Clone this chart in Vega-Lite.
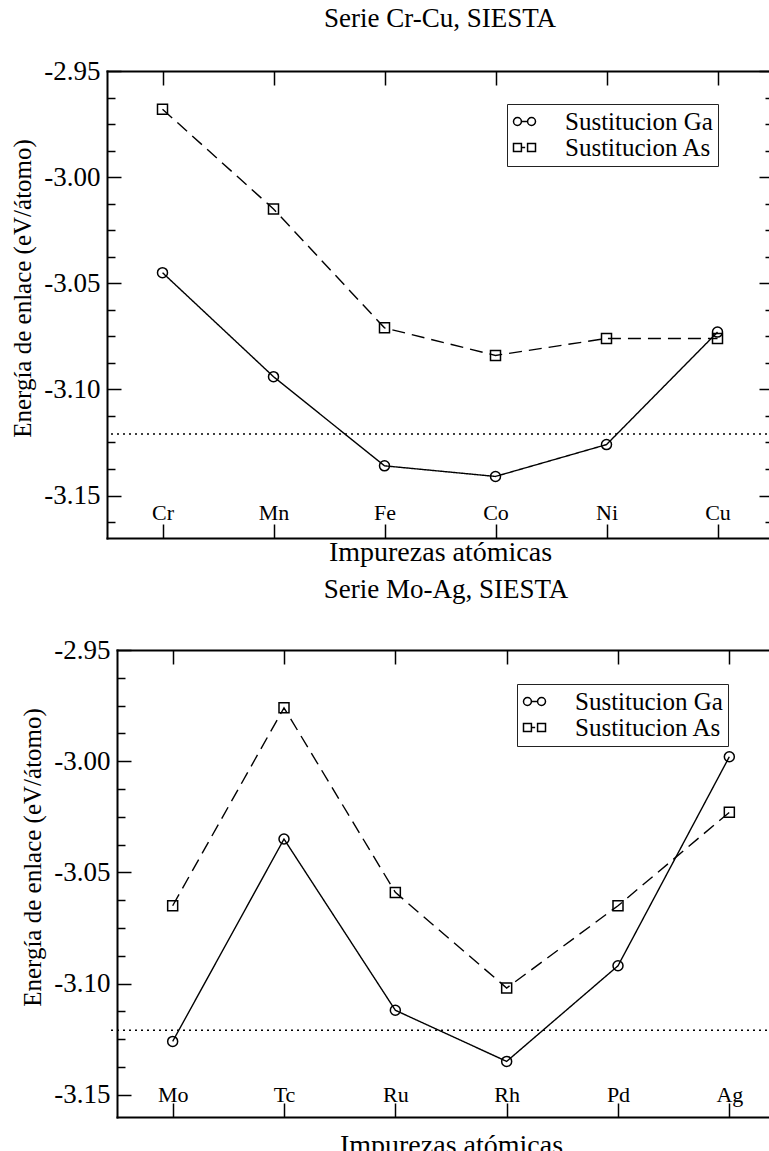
{
  "$schema": "https://vega.github.io/schema/vega-lite/v6.json",
  "padding": {"left": 10, "top": 5, "right": 0, "bottom": 0},
  "background": "white",
  "bounds": "flush",
  "spacing": 112,
  "datasets": {
    "ref": [{"energia": -3.121}],
    "cr": [
      {"elem": "Cr", "serie": "Sustitucion Ga", "energia": -3.045},
      {"elem": "Mn", "serie": "Sustitucion Ga", "energia": -3.094},
      {"elem": "Fe", "serie": "Sustitucion Ga", "energia": -3.136},
      {"elem": "Co", "serie": "Sustitucion Ga", "energia": -3.141},
      {"elem": "Ni", "serie": "Sustitucion Ga", "energia": -3.126},
      {"elem": "Cu", "serie": "Sustitucion Ga", "energia": -3.073},
      {"elem": "Cr", "serie": "Sustitucion As", "energia": -2.968},
      {"elem": "Mn", "serie": "Sustitucion As", "energia": -3.015},
      {"elem": "Fe", "serie": "Sustitucion As", "energia": -3.071},
      {"elem": "Co", "serie": "Sustitucion As", "energia": -3.084},
      {"elem": "Ni", "serie": "Sustitucion As", "energia": -3.076},
      {"elem": "Cu", "serie": "Sustitucion As", "energia": -3.076}
    ],
    "mo": [
      {"elem": "Mo", "serie": "Sustitucion Ga", "energia": -3.126},
      {"elem": "Tc", "serie": "Sustitucion Ga", "energia": -3.035},
      {"elem": "Ru", "serie": "Sustitucion Ga", "energia": -3.112},
      {"elem": "Rh", "serie": "Sustitucion Ga", "energia": -3.135},
      {"elem": "Pd", "serie": "Sustitucion Ga", "energia": -3.092},
      {"elem": "Ag", "serie": "Sustitucion Ga", "energia": -2.998},
      {"elem": "Mo", "serie": "Sustitucion As", "energia": -3.065},
      {"elem": "Tc", "serie": "Sustitucion As", "energia": -2.976},
      {"elem": "Ru", "serie": "Sustitucion As", "energia": -3.059},
      {"elem": "Rh", "serie": "Sustitucion As", "energia": -3.102},
      {"elem": "Pd", "serie": "Sustitucion As", "energia": -3.065},
      {"elem": "Ag", "serie": "Sustitucion As", "energia": -3.023}
    ]
  },
  "vconcat": [
    {
      "width": 666,
      "height": 467,
      "title": {"text": "Serie Cr-Cu, SIESTA", "offset": 3, "baseline": "alphabetic", "frame": "group", "anchor": "middle", "font": "Liberation Serif", "fontSize": 27, "fontWeight": "normal", "color": "black"},
      "layer": [
        {
          "data": {"name": "ref"},
          "mark": {"type": "rule", "strokeDash": [2, 4], "strokeWidth": 1.5, "color": "black"},
          "encoding": {
            "y": {"field": "energia", "type": "quantitative", "scale": {"domain": [-3.17, -2.95], "nice": false, "zero": false}, "axis": null}
          }
        },
        {
          "data": {"name": "cr"},
          "mark": {"type": "line", "strokeWidth": 1.4, "color": "black"},
          "encoding": {
            "x": {"field": "elem", "type": "nominal", "scale": {"type": "point", "domain": ["Cr", "Mn", "Fe", "Co", "Ni", "Cu"], "padding": 0.5},
              "axis": {"orient": "bottom", "title": "Impurezas atómicas", "titleFont": "Liberation Serif", "titleFontSize": 28, "titlePadding": 0, "labelFont": "Liberation Serif", "labelFontSize": 22, "labelAngle": 0, "labelBaseline": "alphabetic", "labelPadding": -5, "tickSize": -14}},
            "y": {"field": "energia", "type": "quantitative", "scale": {"domain": [-3.17, -2.95], "nice": false, "zero": false},
              "axis": {"orient": "left", "title": "Energía de enlace (eV/átomo)", "titleFont": "Liberation Serif", "titleFontSize": 25, "titlePadding": 8, "titleY": 217,
                "values": [-2.95, -2.9625, -2.975, -2.9875, -3.0, -3.0125, -3.025, -3.0375, -3.05, -3.0625, -3.075, -3.0875, -3.1, -3.1125, -3.125, -3.1375, -3.15, -3.1625],
                "labelExpr": "round(datum.value*400) % 20 === 0 ? '-' + format(abs(datum.value), '.2f') : ''",
                "labelFont": "Liberation Serif", "labelFontSize": 27, "labelPadding": 21, "labelOverlap": false,
                "tickSize": {"condition": {"test": "round(datum.value*400) % 20 === 0", "value": -14}, "value": -8}}},
            "strokeDash": {"field": "serie", "type": "nominal", "scale": {"domain": ["Sustitucion As", "Sustitucion Ga"], "range": [[13, 7], [1, 0]]}, "legend": null}
          }
        },
        {
          "data": {"name": "cr"},
          "mark": {"type": "point", "filled": false, "strokeWidth": 1.5, "color": "black", "opacity": 1, "size": 100},
          "encoding": {
            "x": {"field": "elem", "type": "nominal", "scale": {"type": "point", "domain": ["Cr", "Mn", "Fe", "Co", "Ni", "Cu"], "padding": 0.5},
              "axis": {"orient": "top", "title": null, "labels": false, "tickSize": -14}},
            "y": {"field": "energia", "type": "quantitative", "scale": {"domain": [-3.17, -2.95], "nice": false, "zero": false},
              "axis": {"orient": "right", "title": null, "labels": false,
                "values": [-2.95, -2.9625, -2.975, -2.9875, -3.0, -3.0125, -3.025, -3.0375, -3.05, -3.0625, -3.075, -3.0875, -3.1, -3.1125, -3.125, -3.1375, -3.15, -3.1625],
                "tickSize": {"condition": {"test": "round(datum.value*400) % 20 === 0", "value": -14}, "value": -8}}},
            "shape": {"field": "serie", "type": "nominal", "scale": {"domain": ["Sustitucion As", "Sustitucion Ga"], "range": ["square", "circle"]}, "legend": null}
          }
        },
        {
          "data": {"name": "cr"},
          "mark": {"type": "point", "filled": false, "strokeWidth": 1.5, "color": "black", "opacity": 0, "size": 484},
          "encoding": {
            "x": {"field": "elem", "type": "nominal", "scale": {"type": "point", "domain": ["Cr", "Mn", "Fe", "Co", "Ni", "Cu"], "padding": 0.5}, "axis": null},
            "y": {"field": "energia", "type": "quantitative", "scale": {"domain": [-3.17, -2.95], "nice": false, "zero": false}, "axis": null},
            "shape": {"field": "serie", "type": "nominal",
              "scale": {"domain": ["Sustitucion Ga", "Sustitucion As"], "range": ["M-0.28,0A0.36,0.36,0,1,1,-1,0A0.36,0.36,0,1,1,-0.28,0M-0.28,0L0.28,0M1,0A0.36,0.36,0,1,1,0.28,0A0.36,0.36,0,1,1,1,0", "M-1,-0.36L-0.28,-0.36L-0.28,0.36L-1,0.36ZM-0.28,0L0.06,0M0.28,-0.36L1,-0.36L1,0.36L0.28,0.36Z"]},
              "legend": {"orient": "none", "legendX": 400, "legendY": 33, "title": null, "padding": 5, "labelOffset": 28, "labelFont": "Liberation Serif", "labelFontSize": 25, "labelColor": "black", "labelLimit": 400, "rowPadding": 0,
                "symbolSize": 484, "symbolStrokeWidth": 1.5, "symbolStrokeColor": "black", "symbolFillColor": "transparent", "symbolOpacity": 1, "strokeColor": "#222222", "fillColor": "white"}}
          }
        }
      ],
      "resolve": {"axis": {"x": "independent", "y": "independent"}, "scale": {"shape": "independent"}, "legend": {"shape": "independent"}}
    },
    {
      "width": 678,
      "height": 467,
      "title": {"text": "Serie Mo-Ag, SIESTA", "offset": 11, "baseline": "alphabetic", "frame": "group", "anchor": "middle", "font": "Liberation Serif", "fontSize": 27, "fontWeight": "normal", "color": "black"},
      "layer": [
        {
          "data": {"name": "ref"},
          "mark": {"type": "rule", "strokeDash": [2, 4], "strokeWidth": 1.5, "color": "black"},
          "encoding": {
            "y": {"field": "energia", "type": "quantitative", "scale": {"domain": [-3.16, -2.95], "nice": false, "zero": false}, "axis": null}
          }
        },
        {
          "data": {"name": "mo"},
          "mark": {"type": "line", "strokeWidth": 1.4, "color": "black"},
          "encoding": {
            "x": {"field": "elem", "type": "nominal", "scale": {"type": "point", "domain": ["Mo", "Tc", "Ru", "Rh", "Pd", "Ag"], "padding": 0.5, "range": [10, 678]},
              "axis": {"orient": "bottom", "title": "Impurezas atómicas", "titleFont": "Liberation Serif", "titleFontSize": 28, "titlePadding": 14, "labelFont": "Liberation Serif", "labelFontSize": 22, "labelAngle": 0, "labelBaseline": "alphabetic", "labelPadding": -2, "tickSize": -14}},
            "y": {"field": "energia", "type": "quantitative", "scale": {"domain": [-3.16, -2.95], "nice": false, "zero": false},
              "axis": {"orient": "left", "offset": -10, "title": "Energía de enlace (eV/átomo)", "titleFont": "Liberation Serif", "titleFontSize": 25, "titlePadding": 8, "titleY": 207,
                "values": [-2.95, -2.9625, -2.975, -2.9875, -3.0, -3.0125, -3.025, -3.0375, -3.05, -3.0625, -3.075, -3.0875, -3.1, -3.1125, -3.125, -3.1375, -3.15],
                "labelExpr": "round(datum.value*400) % 20 === 0 ? '-' + format(abs(datum.value), '.2f') : ''",
                "labelFont": "Liberation Serif", "labelFontSize": 27, "labelPadding": 21, "labelOverlap": false,
                "tickSize": {"condition": {"test": "round(datum.value*400) % 20 === 0", "value": -14}, "value": -8}}},
            "strokeDash": {"field": "serie", "type": "nominal", "scale": {"domain": ["Sustitucion As", "Sustitucion Ga"], "range": [[13, 7], [1, 0]]}, "legend": null}
          }
        },
        {
          "data": {"name": "mo"},
          "mark": {"type": "point", "filled": false, "strokeWidth": 1.5, "color": "black", "opacity": 1, "size": 100},
          "encoding": {
            "x": {"field": "elem", "type": "nominal", "scale": {"type": "point", "domain": ["Mo", "Tc", "Ru", "Rh", "Pd", "Ag"], "padding": 0.5, "range": [10, 678]},
              "axis": {"orient": "top", "title": null, "labels": false, "tickSize": -14}},
            "y": {"field": "energia", "type": "quantitative", "scale": {"domain": [-3.16, -2.95], "nice": false, "zero": false},
              "axis": {"orient": "right", "title": null, "labels": false,
                "values": [-2.95, -2.9625, -2.975, -2.9875, -3.0, -3.0125, -3.025, -3.0375, -3.05, -3.0625, -3.075, -3.0875, -3.1, -3.1125, -3.125, -3.1375, -3.15],
                "tickSize": {"condition": {"test": "round(datum.value*400) % 20 === 0", "value": -14}, "value": -8}}},
            "shape": {"field": "serie", "type": "nominal", "scale": {"domain": ["Sustitucion As", "Sustitucion Ga"], "range": ["square", "circle"]}, "legend": null}
          }
        },
        {
          "data": {"name": "mo"},
          "mark": {"type": "point", "filled": false, "strokeWidth": 1.5, "color": "black", "opacity": 0, "size": 484},
          "encoding": {
            "x": {"field": "elem", "type": "nominal", "scale": {"type": "point", "domain": ["Mo", "Tc", "Ru", "Rh", "Pd", "Ag"], "padding": 0.5, "range": [10, 678]}, "axis": null},
            "y": {"field": "energia", "type": "quantitative", "scale": {"domain": [-3.16, -2.95], "nice": false, "zero": false}, "axis": null},
            "shape": {"field": "serie", "type": "nominal",
              "scale": {"domain": ["Sustitucion Ga", "Sustitucion As"], "range": ["M-0.28,0A0.36,0.36,0,1,1,-1,0A0.36,0.36,0,1,1,-0.28,0M-0.28,0L0.28,0M1,0A0.36,0.36,0,1,1,0.28,0A0.36,0.36,0,1,1,1,0", "M-1,-0.36L-0.28,-0.36L-0.28,0.36L-1,0.36ZM-0.28,0L0.06,0M0.28,-0.36L1,-0.36L1,0.36L0.28,0.36Z"]},
              "legend": {"orient": "none", "legendX": 410, "legendY": 34, "title": null, "padding": 5, "labelOffset": 28, "labelFont": "Liberation Serif", "labelFontSize": 25, "labelColor": "black", "labelLimit": 400, "rowPadding": 0,
                "symbolSize": 484, "symbolStrokeWidth": 1.5, "symbolStrokeColor": "black", "symbolFillColor": "transparent", "symbolOpacity": 1, "strokeColor": "#222222", "fillColor": "white"}}
          }
        }
      ],
      "resolve": {"axis": {"x": "independent", "y": "independent"}, "scale": {"shape": "independent"}, "legend": {"shape": "independent"}}
    }
  ],
  "resolve": {
    "scale": {"x": "independent", "y": "independent", "shape": "independent", "strokeDash": "independent"},
    "legend": {"shape": "independent", "strokeDash": "independent"}
  },
  "config": {
    "view": {"stroke": null},
    "font": "Liberation Serif",
    "axis": {
      "labelFont": "Liberation Serif", "titleFont": "Liberation Serif", "labelColor": "black", "titleColor": "black",
      "titleFontWeight": "normal", "tickColor": "black", "tickWidth": 1.5, "domain": true, "domainColor": "black",
      "domainWidth": 2, "domainCap": "square", "grid": false
    },
    "legend": {"labelFont": "Liberation Serif"}
  }
}
